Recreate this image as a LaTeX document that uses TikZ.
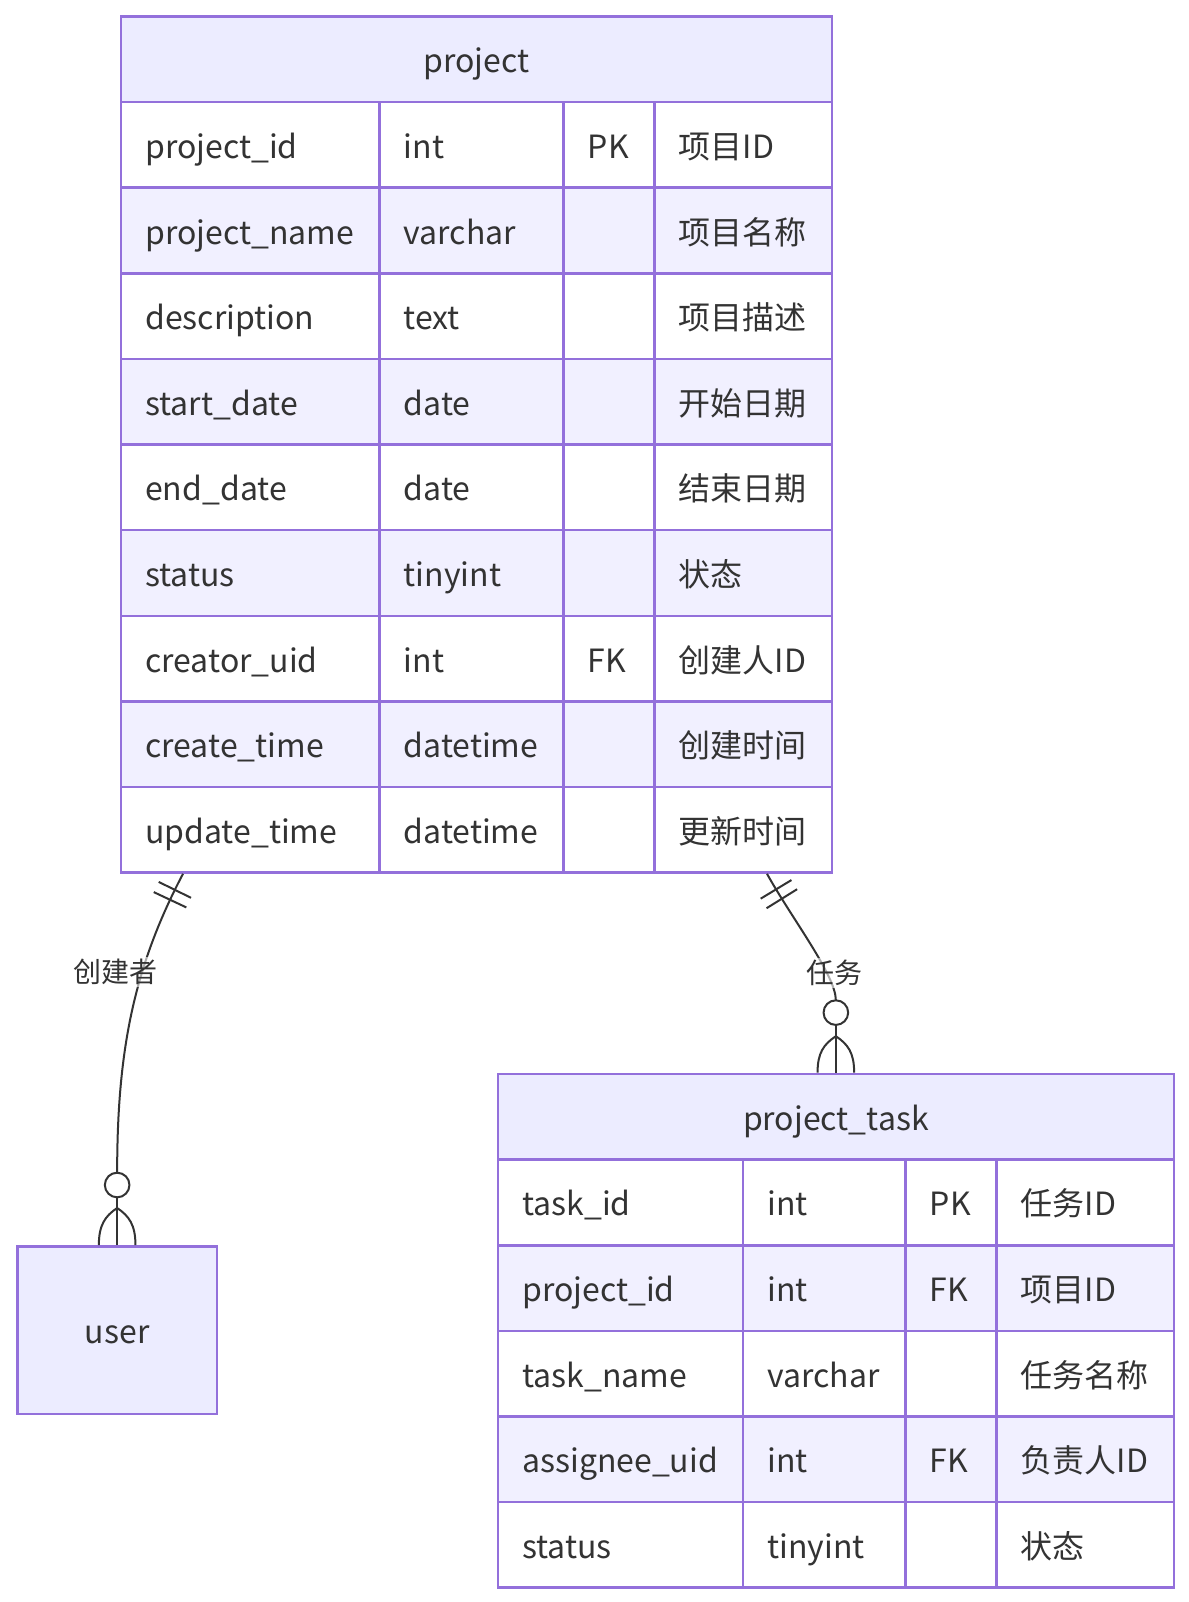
\documentclass[tikz,border=0pt]{standalone}
\usepackage{fontspec}
\setmainfont{Noto Sans CJK SC}
\usepackage{tikz}
\usetikzlibrary{positioning, decorations.markings}
\definecolor{erline}{HTML}{9370DB}
\definecolor{erhead}{HTML}{ECECFF}
\definecolor{eralt}{HTML}{F1F0FF}
\definecolor{ink}{HTML}{333333}

\begin{document}
\begin{tikzpicture}[x=1pt, y=-1pt, font=\fontsize{32}{38}\selectfont, text=ink,
    cell/.style={draw=erline, line width=2.5pt, anchor=north west, minimum height=85.6pt,
      inner ysep=0pt, inner xsep=24.5pt, align=left, text height=30pt, text depth=3pt},
    head/.style={draw=erline, line width=2.5pt, fill=erhead, anchor=north west,
      minimum height=85.6pt, inner sep=0pt, text height=30pt, text depth=3pt},
    rel/.style={draw=ink, line width=2pt},
    onebars/.style={postaction={decorate, decoration={markings,
      mark=at position 18pt with {\draw[rel] (0,-18pt) -- (0,18pt);},
      mark=at position 29pt with {\draw[rel] (0,-18pt) -- (0,18pt);}}}},
    rlabel/.style={fill=white, fill opacity=0.6, text opacity=1, inner sep=2pt,
      font=\fontsize{28}{30}\selectfont}]
      \useasboundingbox (0,0) rectangle (1188,1602);

      % project
      \node[head, minimum width=711pt] (project) at (119.5,15.3) {project};
      \foreach \a/\b/\c/\d [count=\i] in {project\_id/int/PK/项目ID, project\_name/varchar//项目名称,
        description/text//项目描述, start\_date/date//开始日期, end\_date/date//结束日期,
        status/tinyint//状态, creator\_uid/int/FK/创建人ID, create\_time/datetime//创建时间,
        update\_time/datetime//更新时间}{
        \ifodd\i \def\rowfill{white}\else \def\rowfill{eralt}\fi
        \pgfmathsetmacro\ry{100.9+85.6*(\i-1)}
        \node[cell, fill=\rowfill, text width=209.5pt] (p\i a) at (119.5,\ry) {\a};
        \node[cell, fill=\rowfill, text width=135pt] (p\i b) at (378,\ry) {\b};
        \node[cell, fill=\rowfill, text width=42pt] (p\i c) at (562,\ry) {\c};
        \node[cell, fill=\rowfill, text width=128.5pt] (p\i d) at (653,\ry) {\d};
      }

      % project_task
      \node[head, minimum width=676.2pt] (task) at (496.5,1072.6) {project\_task};
      \foreach \a/\b/\c/\d [count=\i] in {task\_id/int/PK/任务ID, project\_id/int/FK/项目ID,
        task\_name/varchar//任务名称, assignee\_uid/int/FK/负责人ID, status/tinyint//状态}{
        \ifodd\i \def\rowfill{white}\else \def\rowfill{eralt}\fi
        \pgfmathsetmacro\ry{1158.4+85.6*(\i-1)}
        \node[cell, fill=\rowfill, text width=196.1pt] (t\i a) at (496.5,\ry) {\a};
        \node[cell, fill=\rowfill, text width=113.4pt] (t\i b) at (741.6,\ry) {\b};
        \node[cell, fill=\rowfill, text width=42pt] (t\i c) at (904,\ry) {\c};
        \node[cell, fill=\rowfill, text width=128.7pt] (t\i d) at (995,\ry) {\d};
      }

      % user
      \node[head, minimum width=199.2pt, minimum height=167.7pt] (user) at (16.3,1245) {user};

      % relation points
      \path (p9a.south west) ++(63.5,0) coordinate (c1a);
      \path (p9d.south west) ++(114,0) coordinate (c2a);
      \path (user.north) ++(0,-72.3) coordinate (c1e) ++(0,12.3) coordinate (c1o)
        ++(0,23) coordinate (c1x) ++(-18.3,37) coordinate (c1l) ++(36.6,0) coordinate (c1r);
      \path (task.north) ++(0,-72.3) coordinate (c2e) ++(0,12.3) coordinate (c2o)
        ++(0,23.6) coordinate (c2x) ++(-18.3,36.4) coordinate (c2l) ++(36.6,0) coordinate (c2r);

      % 创建者
      \draw[rel, onebars] (c1a) .. controls +(-50,95) and +(0,-120) .. (c1e);
      \draw[rel] (c1o) circle (12.3);
      \draw[rel] (user.north) -- ++(0,-47.7);
      \draw[rel] (c1l) .. controls +(0,-20) and +(-12,8) .. (c1x) .. controls +(12,8) and +(0,-20) .. (c1r);
      \node[rlabel] (l1) at (115,972) {创建者};

      % 任务
      \draw[rel, onebars] (c2a) .. controls +(25,45) and +(0,-25) .. (c2e);
      \draw[rel] (c2o) circle (12.3);
      \draw[rel] (task.north) -- ++(0,-47.7);
      \draw[rel] (c2l) .. controls +(0,-20) and +(-12,8) .. (c2x) .. controls +(12,8) and +(0,-20) .. (c2r);
      \node[rlabel] (l2) at (834.6,973) {任务};
\end{tikzpicture}
\end{document}
